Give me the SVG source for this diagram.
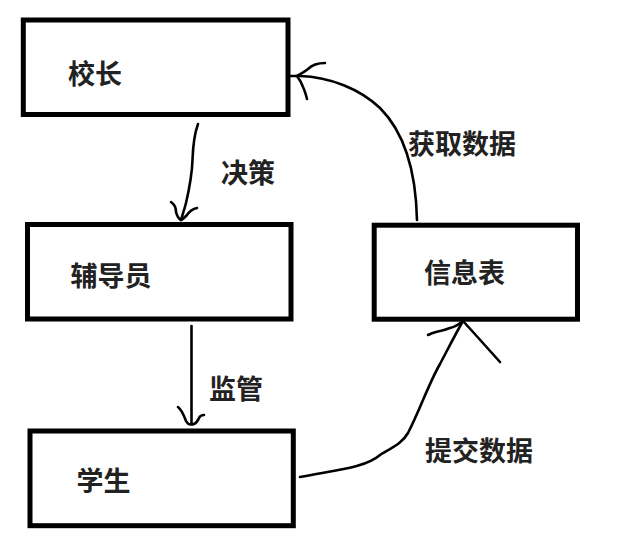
<svg xmlns="http://www.w3.org/2000/svg" width="622" height="543" viewBox="0 0 622 543">
<style>
.box{fill:#fff;stroke:#000;stroke-width:5}
.lbl{font-family:"Noto Sans CJK SC","Noto Sans",sans-serif;font-size:27px;font-weight:700;fill:#222;dominant-baseline:central}
.con{fill:none;stroke:#000;stroke-width:2.6;stroke-linecap:round;stroke-linejoin:round}
</style>
<rect width="622" height="543" fill="#fff"/>
<g id="node-principal">
<rect class="box" x="23.3" y="20" width="264.7" height="94.5"/>
<text class="lbl" x="68" y="72.5">校长</text>
</g>
<g id="node-counselor">
<rect class="box" x="27.5" y="224.5" width="263.5" height="94.5"/>
<text class="lbl" x="70.5" y="274.5">辅导员</text>
</g>
<g id="node-infotable">
<rect class="box" x="374.2" y="225.2" width="203.3" height="94"/>
<text class="lbl" x="424" y="271">信息表</text>
</g>
<g id="node-student">
<rect class="box" x="30" y="431" width="263.3" height="94.7"/>
<text class="lbl" x="76.5" y="479">学生</text>
</g>
<g id="connectors">
<!-- 校长 -> 辅导员 决策 -->
<path class="con" d="M198,124 C194,135 193,145 192.5,160 C192,175 189,190 186,203 C184,211 182,216 181,220"/>
<path class="con" d="M171,202 C174,204 176,208 176,212 C177,216 179,219 181,220"/>
<path class="con" d="M197,208 C192,209 189,212 187,215 C185,217 183,219 181,220"/>
<text class="lbl" x="221" y="171">决策</text>
<!-- 辅导员 -> 学生 监管 -->
<path class="con" d="M191.5,326 L191.5,424"/>
<path class="con" d="M178,407 C182,410 184,416 186,421 C188,425 191,425 194,424 C197,423 198,420 199,418 C200,416 202,415 204,415"/>
<text class="lbl" x="209" y="387.5">监管</text>
<!-- 信息表 -> 校长 获取数据 -->
<path class="con" d="M417,220 C416,175 407,135 380,108 C360,89 330,77 300,76"/>
<path class="con" d="M291,76 L297,76"/>
<path class="con" d="M325,63 C318,63 313,64 308,69 C303,73 300,74 297,76"/>
<path class="con" d="M297,76 C300,80 302,84 303,87 C305,91 306,95 307,99"/>
<text class="lbl" x="408" y="142">获取数据</text>
<!-- 学生 -> 信息表 提交数据 -->
<path class="con" d="M300,477 C335,470 365,468 380,455 C395,446 403,442 408,433 C420,410 428,385 440,364 C449,347 456,333 463,321"/>
<path class="con" d="M463,321 C458,325 455,327 450,328 C445,330 441,331 436,332 C432,333 430,334 428,335"/>
<path class="con" d="M463,321 L473,332 L500,362"/>
<text class="lbl" x="425" y="449">提交数据</text>
</g>
</svg>
